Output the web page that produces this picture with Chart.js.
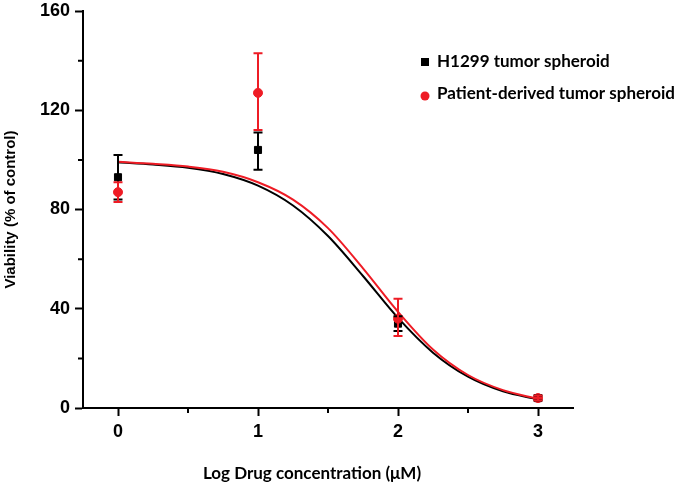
<!DOCTYPE html>
<html>
<head>
<meta charset="utf-8">
<script src="https://cdn.jsdelivr.net/npm/chart.js@4"></script>
<style>
  body { margin: 0; background: #fff; }
  canvas { display: block; }
</style>
</head>
<body>
<canvas id="chart" width="678" height="484"></canvas>
<script>
const doses = [0, 1, 2, 3];
const h1299Mean = [93, 104, 34, 4];
const h1299Low = [84, 96, 31, 3];
const h1299High = [102, 111, 37, 5];
const patientMean = [87, 127, 36, 4];
const patientLow = [83, 112, 29, 3];
const patientHigh = [91, 143, 44, 5];

// fitted curves
const fitX = [0, 0.25, 0.5, 0.75, 1, 1.25, 1.5, 1.75, 2, 2.25, 2.5, 2.75, 3];
const h1299Fit = [99, 98.1, 96.8, 94.3, 89.6, 81.6, 69.3, 53.2, 36.3, 22.3, 12.6, 6.7, 3.5];
const patientFit = [99.2, 98.4, 97.3, 95.2, 91, 84, 72.5, 56.3, 38.8, 23.6, 13.3, 7.2, 3.7];

const xTicks = [0, 1, 2, 3];
const xMinor = [0.5, 1.5, 2.5];
const yTicks = [0, 40, 80, 120, 160];
const yMinor = [20, 60, 100, 140];
const xTitle = 'Log Drug concentration (μM)';

const BLACK = '#000000';
const RED = '#ee1c25';

const pts = (xs, ys) => xs.map((x, i) => ({ x, y: ys[i] }));

const errorSets = [
  { color: BLACK, low: h1299Low, high: h1299High },
  { color: RED, low: patientLow, high: patientHigh }
];

const extras = {
  id: 'extras',
  afterDatasetsDraw(chart) {
    const { ctx, scales: { x, y } } = chart;
    ctx.save();
    ctx.lineWidth = 2;
    errorSets.forEach(s => {
      ctx.strokeStyle = s.color;
      doses.forEach((d, i) => {
        const px = x.getPixelForValue(d);
        const lo = y.getPixelForValue(s.low[i]);
        const hi = y.getPixelForValue(s.high[i]);
        ctx.beginPath();
        ctx.moveTo(px, lo); ctx.lineTo(px, hi);
        ctx.moveTo(px - 4.5, lo); ctx.lineTo(px + 4.5, lo);
        ctx.moveTo(px - 4.5, hi); ctx.lineTo(px + 4.5, hi);
        ctx.stroke();
      });
    });

    // minor ticks
    ctx.strokeStyle = BLACK;
    ctx.beginPath();
    yMinor.forEach(v => {
      const py = y.getPixelForValue(v);
      ctx.moveTo(x.left, py); ctx.lineTo(x.left - 5, py);
    });
    xMinor.forEach(v => {
      const px = x.getPixelForValue(v);
      ctx.moveTo(px, y.bottom); ctx.lineTo(px, y.bottom + 5);
    });
    ctx.stroke();

    // legend
    ctx.font = 'bold 17px Lato';
    ctx.textBaseline = 'middle';
    ctx.fillStyle = BLACK;
    ctx.fillRect(421, 58, 8, 8);
    ctx.fillText(chart.data.datasets[0].label, 437, 62);
    ctx.fillStyle = RED;
    ctx.beginPath();
    ctx.arc(425, 96, 4.5, 0, Math.PI * 2);
    ctx.fill();
    ctx.fillStyle = BLACK;
    ctx.fillText(chart.data.datasets[1].label, 437, 94);

    // x axis title (sits a bit left of the axis centre in the original)
    ctx.textAlign = 'center';
    ctx.fillText(xTitle, 312, 474);
    ctx.restore();
  }
};

new Chart(document.getElementById('chart'), {
  type: 'scatter',
  data: {
    datasets: [
      {
        label: 'H1299 tumor spheroid',
        data: pts(doses, h1299Mean),
        pointStyle: 'rect',
        pointRadius: 5,
        backgroundColor: BLACK,
        borderColor: BLACK,
        order: 1
      },
      {
        label: 'Patient-derived tumor spheroid',
        data: pts(doses, patientMean),
        pointStyle: 'circle',
        pointRadius: 4.5,
        backgroundColor: RED,
        borderColor: RED,
        order: 0
      },
      {
        type: 'line',
        label: 'h1299 fit',
        data: pts(fitX, h1299Fit),
        borderColor: BLACK,
        borderWidth: 2,
        pointRadius: 0,
        cubicInterpolationMode: 'monotone',
        order: 3
      },
      {
        type: 'line',
        label: 'patient fit',
        data: pts(fitX, patientFit),
        borderColor: RED,
        borderWidth: 2,
        pointRadius: 0,
        cubicInterpolationMode: 'monotone',
        order: 2
      }
    ]
  },
  options: {
    responsive: false,
    animation: false,
    layout: { padding: { top: 11, right: 105, left: 0, bottom: 0 } },
    plugins: {
      legend: { display: false },
      tooltip: { enabled: false }
    },
    scales: {
      x: {
        type: 'linear',
        min: -0.25,
        max: 3.25,
        afterBuildTicks: s => { s.ticks = xTicks.map(v => ({ value: v })); },
        afterFit: s => { s.height = 76; s.paddingLeft = 0; s.paddingRight = 0; },
        border: { color: BLACK, width: 2 },
        grid: { drawOnChartArea: false, drawTicks: true, tickLength: 8, tickWidth: 2, tickColor: BLACK },
        ticks: { color: BLACK, font: { family: 'Liberation Sans', size: 18, weight: 'bold' }, padding: 5 },
        title: { display: false }
      },
      y: {
        min: 0,
        max: 160,
        afterBuildTicks: s => { s.ticks = yTicks.map(v => ({ value: v })); },
        afterFit: s => { s.width = 83; s.paddingTop = 0; s.paddingBottom = 0; },
        border: { color: BLACK, width: 2 },
        grid: { drawOnChartArea: false, drawTicks: true, tickLength: 8, tickWidth: 2, tickColor: BLACK },
        ticks: { color: BLACK, font: { family: 'Liberation Sans', size: 18, weight: 'bold' }, padding: 5 },
        title: {
          display: true,
          text: 'Viability (% of control)',
          color: BLACK,
          font: { family: 'Liberation Sans', size: 15, weight: 'bold' },
          padding: { top: 2, bottom: 0 }
        }
      }
    }
  },
  plugins: [extras]
});
</script>
</body>
</html>
